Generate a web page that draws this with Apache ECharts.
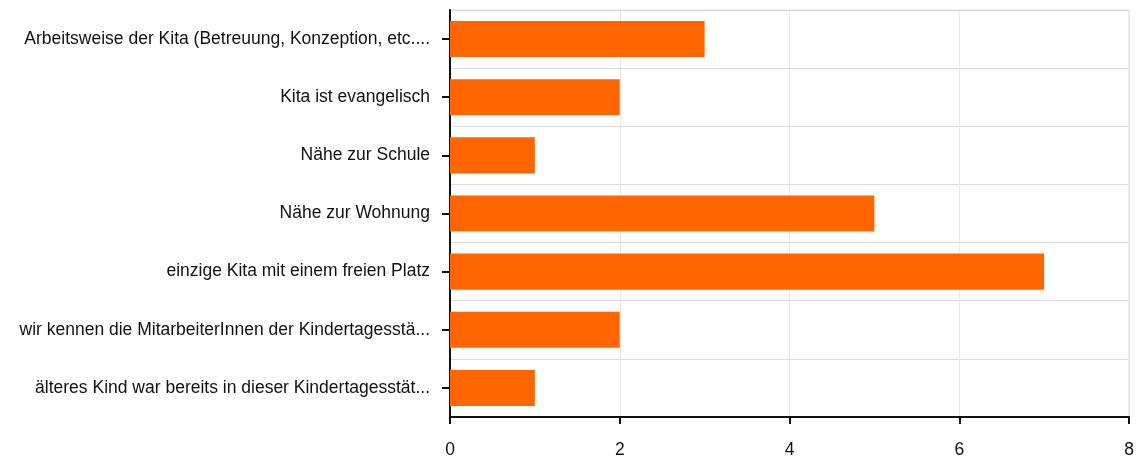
<!DOCTYPE html>
<html>
<head>
<meta charset="utf-8">
<script src="https://cdn.jsdelivr.net/npm/echarts@6/dist/echarts.min.js"></script>
<style>html,body{margin:0;padding:0;background:#fff}#c{width:1146px;height:459px}</style>
</head>
<body>
<div id="c"></div>
<script>
const categories = [
  "Arbeitsweise der Kita (Betreuung, Konzeption, etc....",
  "Kita ist evangelisch",
  "Nähe zur Schule",
  "Nähe zur Wohnung",
  "einzige Kita mit einem freien Platz",
  "wir kennen die MitarbeiterInnen der Kindertagesstä...",
  "älteres Kind war bereits in dieser Kindertagesstät..."
];
const values = [3, 2, 1, 5, 7, 2, 1];
const xTicks = [0, 2, 4, 6, 8];

const chart = echarts.init(document.getElementById('c'));
chart.setOption({
  animation: false,
  textStyle: { fontFamily: 'Liberation Sans, Arial, sans-serif' },
  grid: { left: 450, right: 17, top: 10, bottom: 41, containLabel: false,
          show: true, borderColor: '#dddddd', borderWidth: 1 },
  xAxis: {
    type: 'value', min: xTicks[0], max: xTicks[xTicks.length - 1], interval: 2,
    axisLine: { show: true, lineStyle: { color: '#111', width: 2 } },
    axisTick: { show: true, length: 7, lineStyle: { color: '#111', width: 2 } },
    axisLabel: { color: '#111', fontSize: 17.5, margin: 24 },
    splitLine: { show: true, lineStyle: { color: '#e8e8e8', width: 1 } }
  },
  yAxis: {
    type: 'category', data: categories, inverse: true,
    axisLine: { show: true, lineStyle: { color: '#111', width: 2 } },
    axisTick: { show: true, alignWithLabel: true, length: 8, lineStyle: { color: '#111', width: 2 } },
    axisLabel: { color: '#111', fontSize: 17.5, margin: 20 },
    splitLine: { show: true, lineStyle: { color: '#dddddd', width: 1 } }
  },
  series: [{
    type: 'bar', data: values, barCategoryGap: '38%',
    itemStyle: { color: '#ff6600' }
  }]
});
</script>
</body>
</html>
